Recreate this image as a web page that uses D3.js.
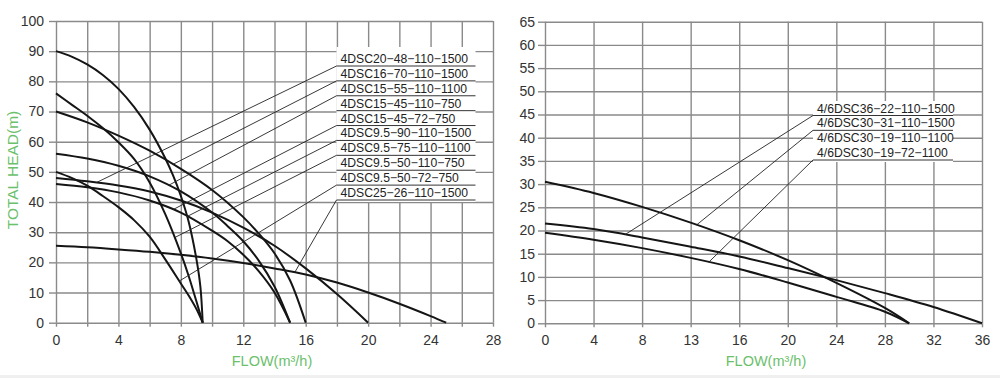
<!DOCTYPE html>
<html>
<head>
<meta charset="utf-8">
<script src="https://cdn.jsdelivr.net/npm/d3@7"></script>
<style>
  body { margin: 0; background: #fff; }
  svg { display: block; font-family: "Liberation Sans", Arial, sans-serif; }
</style>
</head>
<body>
<svg id="chart" width="1000" height="378"></svg>
<script>
// ---- left chart: flow (m3/h) / head (m) points
var q9590 = [0, 1, 2, 3, 4, 5, 6, 7, 7.5, 8, 8.5, 9, 9.25, 9.4];
var h9590 = [90, 88.2, 85.6, 82.1, 77.5, 71.5, 64, 54.5, 48.8, 42, 33.5, 21, 12, 0];
var q9575 = [0, 1, 2, 3, 4, 5, 6, 7, 8, 8.5, 9, 9.4];
var h9575 = [76, 72.3, 68.6, 64.5, 59.8, 54.3, 46.5, 36, 23, 15.5, 7, 0];
var q1670 = [0, 2, 4, 6, 8, 10, 12, 13, 14, 15, 16];
var h1670 = [70, 66.4, 62, 57, 51, 44, 35, 29.5, 23, 14, 0];
var q1555 = [0, 2, 4, 6, 8, 10, 11, 12, 13, 14, 15];
var h1555 = [56, 54.4, 52, 48.5, 43.5, 36.5, 32, 27, 20.5, 12, 0];
var q1545 = [0, 2, 4, 6, 8, 10, 11, 12, 13, 14, 15];
var h1545 = [46, 44.9, 43.2, 40.5, 36.5, 30.5, 27, 22.5, 17, 10, 0];
var q9550 = [0, 1, 2, 3, 4, 5, 6, 7, 8, 8.5, 9, 9.4];
var h9550 = [50, 48, 45.4, 42, 38.3, 34, 28.5, 21, 13, 9, 4.5, 0];
var q2048 = [0, 2, 4, 6, 8, 10, 12, 14, 16, 18, 20];
var h2048 = [48, 46.9, 45.5, 43.5, 40.5, 36.5, 31.5, 25.5, 18, 9.5, 0];
var q2526 = [0, 2, 4, 6, 8, 10, 12, 14, 16, 18, 20, 22, 24, 25];
var h2526 = [25.5, 25, 24.3, 23.5, 22.5, 21.3, 19.8, 18, 16, 13.3, 10, 6.3, 2.2, 0];

var leftCurves = [[q9590, h9590], [q9575, h9575], [q1670, h1670], [q1555, h1555],
                  [q1545, h1545], [q9550, h9550], [q2048, h2048], [q2526, h2526]];

var leftLabels = ['4DSC20−48−110−1500', '4DSC16−70−110−1500', '4DSC15−55−110−1100',
                  '4DSC15−45−110−750', '4DSC15−45−72−750', '4DSC9.5−90−110−1500',
                  '4DSC9.5−75−110−1100', '4DSC9.5−50−110−750', '4DSC9.5−50−72−750',
                  '4DSC25−26−110−1500'];
// which curve each label points at (-1 = no leader) and at what flow
var leftLeaderCurve = [6, 2, 3, -1, 4, 0, 1, -1, 5, 7];
var leftLeaderFlow = [2.6, 7.5, 7.2, 0, 7.5, 8.4, 7.6, 0, 7.9, 15.3];

var leftYTicks = [0, 10, 20, 30, 40, 50, 60, 70, 80, 90, 100];
var leftXGrid = [0, 2, 4, 6, 8, 10, 12, 14, 16, 18, 20, 22, 24, 26, 28];
var leftXLabels = ['0', '', '4', '', '8', '', '12', '', '16', '', '20', '', '24', '', '28'];

// ---- right chart
var q3622 = [0, 4, 8, 12, 16, 20, 24, 28, 32, 36];
var h3622 = [21.5, 20.3, 18.5, 16.5, 14.4, 11.9, 9.3, 6.5, 3.5, 0];
var q3031 = [0, 4, 8, 12, 16, 20, 24, 28, 30];
var h3031 = [30.5, 28.1, 25.1, 21.7, 17.9, 13.6, 8.7, 3.3, 0];
var q3019 = [0, 4, 8, 12, 16, 20, 24, 28, 30];
var h3019 = [19.5, 18, 16.2, 14.1, 11.7, 8.8, 5.7, 2.5, 0];

var rightCurves = [[q3622, h3622], [q3031, h3031], [q3019, h3019]];
var rightLabels = ['4/6DSC36−22−110−1500', '4/6DSC30−31−110−1500',
                   '4/6DSC30−19−110−1100', '4/6DSC30−19−72−1100'];
var rightLeaderCurve = [0, 1, -1, 2];
var rightLeaderFlow = [6.6, 12.5, 0, 13.5];
var rightUnderline = [true, true, false, true];

var rightYTicks = [0, 5, 10, 15, 20, 25, 30, 35, 40, 45, 50, 55, 60, 65];
var rightXGrid = [0, 4, 8, 12, 16, 20, 24, 28, 32, 36];
var rightXLabels = ['0', '4', '8', '13', '16', '20', '24', '28', '32', '36'];

var gridColor = '#8a8a8a';
var green = '#6cbf6c';

var svg = d3.select('#chart');

// light band at the very bottom
svg.append('rect').attr('x', 0).attr('y', 375).attr('width', 1000).attr('height', 3).attr('fill', '#f0f0f0');

function headAt(curve, q) {
    var qs = curve[0], hs = curve[1];
    for (var i = 0; i < qs.length - 1; i++) {
        if (q >= qs[i] && q <= qs[i + 1]) {
            var t = (q - qs[i]) / (qs[i + 1] - qs[i]);
            return hs[i] + t * (hs[i + 1] - hs[i]);
        }
    }
    return hs[hs.length - 1];
}

function drawPanel(p) {
    var x = d3.scaleLinear().domain([0, p.xMax]).range(p.xRange);
    var y = d3.scaleLinear().domain([0, p.yMax]).range(p.yRange);
    var w = p.xRange[1] - p.xRange[0];
    var h = p.yRange[0] - p.yRange[1];

    var g = svg.append('g');

    // horizontal grid + outward ticks + labels
    var yAxis = g.append('g')
        .attr('transform', 'translate(' + p.xRange[0] + ',0)')
        .call(d3.axisLeft(y).tickValues(p.yTicks).tickSize(7).tickPadding(p.yPad));
    var yGrid = g.append('g')
        .attr('transform', 'translate(' + p.xRange[0] + ',0)')
        .call(d3.axisLeft(y).tickValues(p.yTicks).tickSize(-w).tickFormat(''));

    // vertical grid + ticks + labels
    var xAxis = g.append('g')
        .attr('transform', 'translate(0,' + p.yRange[0] + ')')
        .call(d3.axisBottom(x).tickValues(p.xGrid).tickSize(4).tickPadding(8)
            .tickFormat(function (d, i) { return p.xLabels[i]; }));
    var xGrid = g.append('g')
        .attr('transform', 'translate(0,' + p.yRange[0] + ')')
        .call(d3.axisBottom(x).tickValues(p.xGrid).tickSize(-h).tickFormat(''));

    [yAxis, yGrid, xAxis, xGrid].forEach(function (a) {
        a.select('.domain').remove();
        a.selectAll('line').attr('stroke', gridColor).attr('stroke-width', 1.4);
        a.selectAll('text').attr('fill', '#333').attr('font-size', 14)
            .attr('font-family', '"Liberation Sans", Arial, sans-serif');
    });

    // white block behind the model labels
    var ly = d3.scalePoint().domain(d3.range(p.labels.length)).range(p.labelRows);
    g.append('rect')
        .attr('x', p.labelX).attr('y', p.labelBox[0])
        .attr('width', p.labelW).attr('height', p.labelBox[1] - p.labelBox[0])
        .attr('fill', '#fff');

    // curves
    var line = d3.line()
        .x(function (d) { return x(d[0]); })
        .y(function (d) { return y(d[1]); })
        .curve(d3.curveCatmullRom.alpha(0.5));
    g.selectAll('.curve').data(p.curves).enter().append('path')
        .attr('class', 'curve')
        .attr('d', function (c) { return line(c[0].map(function (q, i) { return [q, c[1][i]]; })); })
        .attr('fill', 'none')
        .attr('stroke', '#151515')
        .attr('stroke-width', 2);

    // labels, underlines and leader lines
    p.labels.forEach(function (t, i) {
        var uy = ly(i);
        g.append('text')
            .attr('x', p.labelX + 4).attr('y', uy - 3)
            .attr('font-size', 12.2).attr('fill', '#222')
            .text(t);
        if (!p.underline || p.underline[i]) {
            g.append('line')
                .attr('x1', p.labelX).attr('x2', p.labelX + p.labelW)
                .attr('y1', uy).attr('y2', uy)
                .attr('stroke', '#333').attr('stroke-width', 1);
        }
        var ci = p.leaderCurve[i];
        if (ci >= 0) {
            var q = p.leaderFlow[i];
            g.append('line')
                .attr('x1', p.labelX).attr('y1', uy)
                .attr('x2', x(q)).attr('y2', y(headAt(p.curves[ci], q)))
                .attr('stroke', '#222').attr('stroke-width', 0.9);
        }
    });

    // axis title
    g.append('text')
        .attr('x', p.titleX).attr('y', 366)
        .attr('text-anchor', 'middle')
        .attr('font-size', 14.5).attr('fill', green)
        .text('FLOW(m³/h)');
}

drawPanel({
    xMax: 28, yMax: 100, xRange: [56, 493], yRange: [322.7, 21],
    yTicks: leftYTicks, xGrid: leftXGrid, xLabels: leftXLabels, yPad: 5,
    curves: leftCurves, labels: leftLabels,
    leaderCurve: leftLeaderCurve, leaderFlow: leftLeaderFlow,
    labelX: 336.5, labelW: 139, labelRows: [66, 200], labelBox: [47, 202],
    titleX: 272
});

drawPanel({
    xMax: 36, yMax: 65, xRange: [545, 982], yRange: [323.3, 21.7],
    yTicks: rightYTicks, xGrid: rightXGrid, xLabels: rightXLabels, yPad: 3,
    curves: rightCurves, labels: rightLabels,
    leaderCurve: rightLeaderCurve, leaderFlow: rightLeaderFlow, underline: rightUnderline,
    labelX: 813, labelW: 140, labelRows: [115.5, 160], labelBox: [101, 162],
    titleX: 766
});

// y title
svg.append('text')
    .attr('transform', 'translate(18,170) rotate(-90)')
    .attr('text-anchor', 'middle')
    .attr('font-size', 15.5).attr('fill', green)
    .text('TOTAL HEAD(m)');
</script>
</body>
</html>
